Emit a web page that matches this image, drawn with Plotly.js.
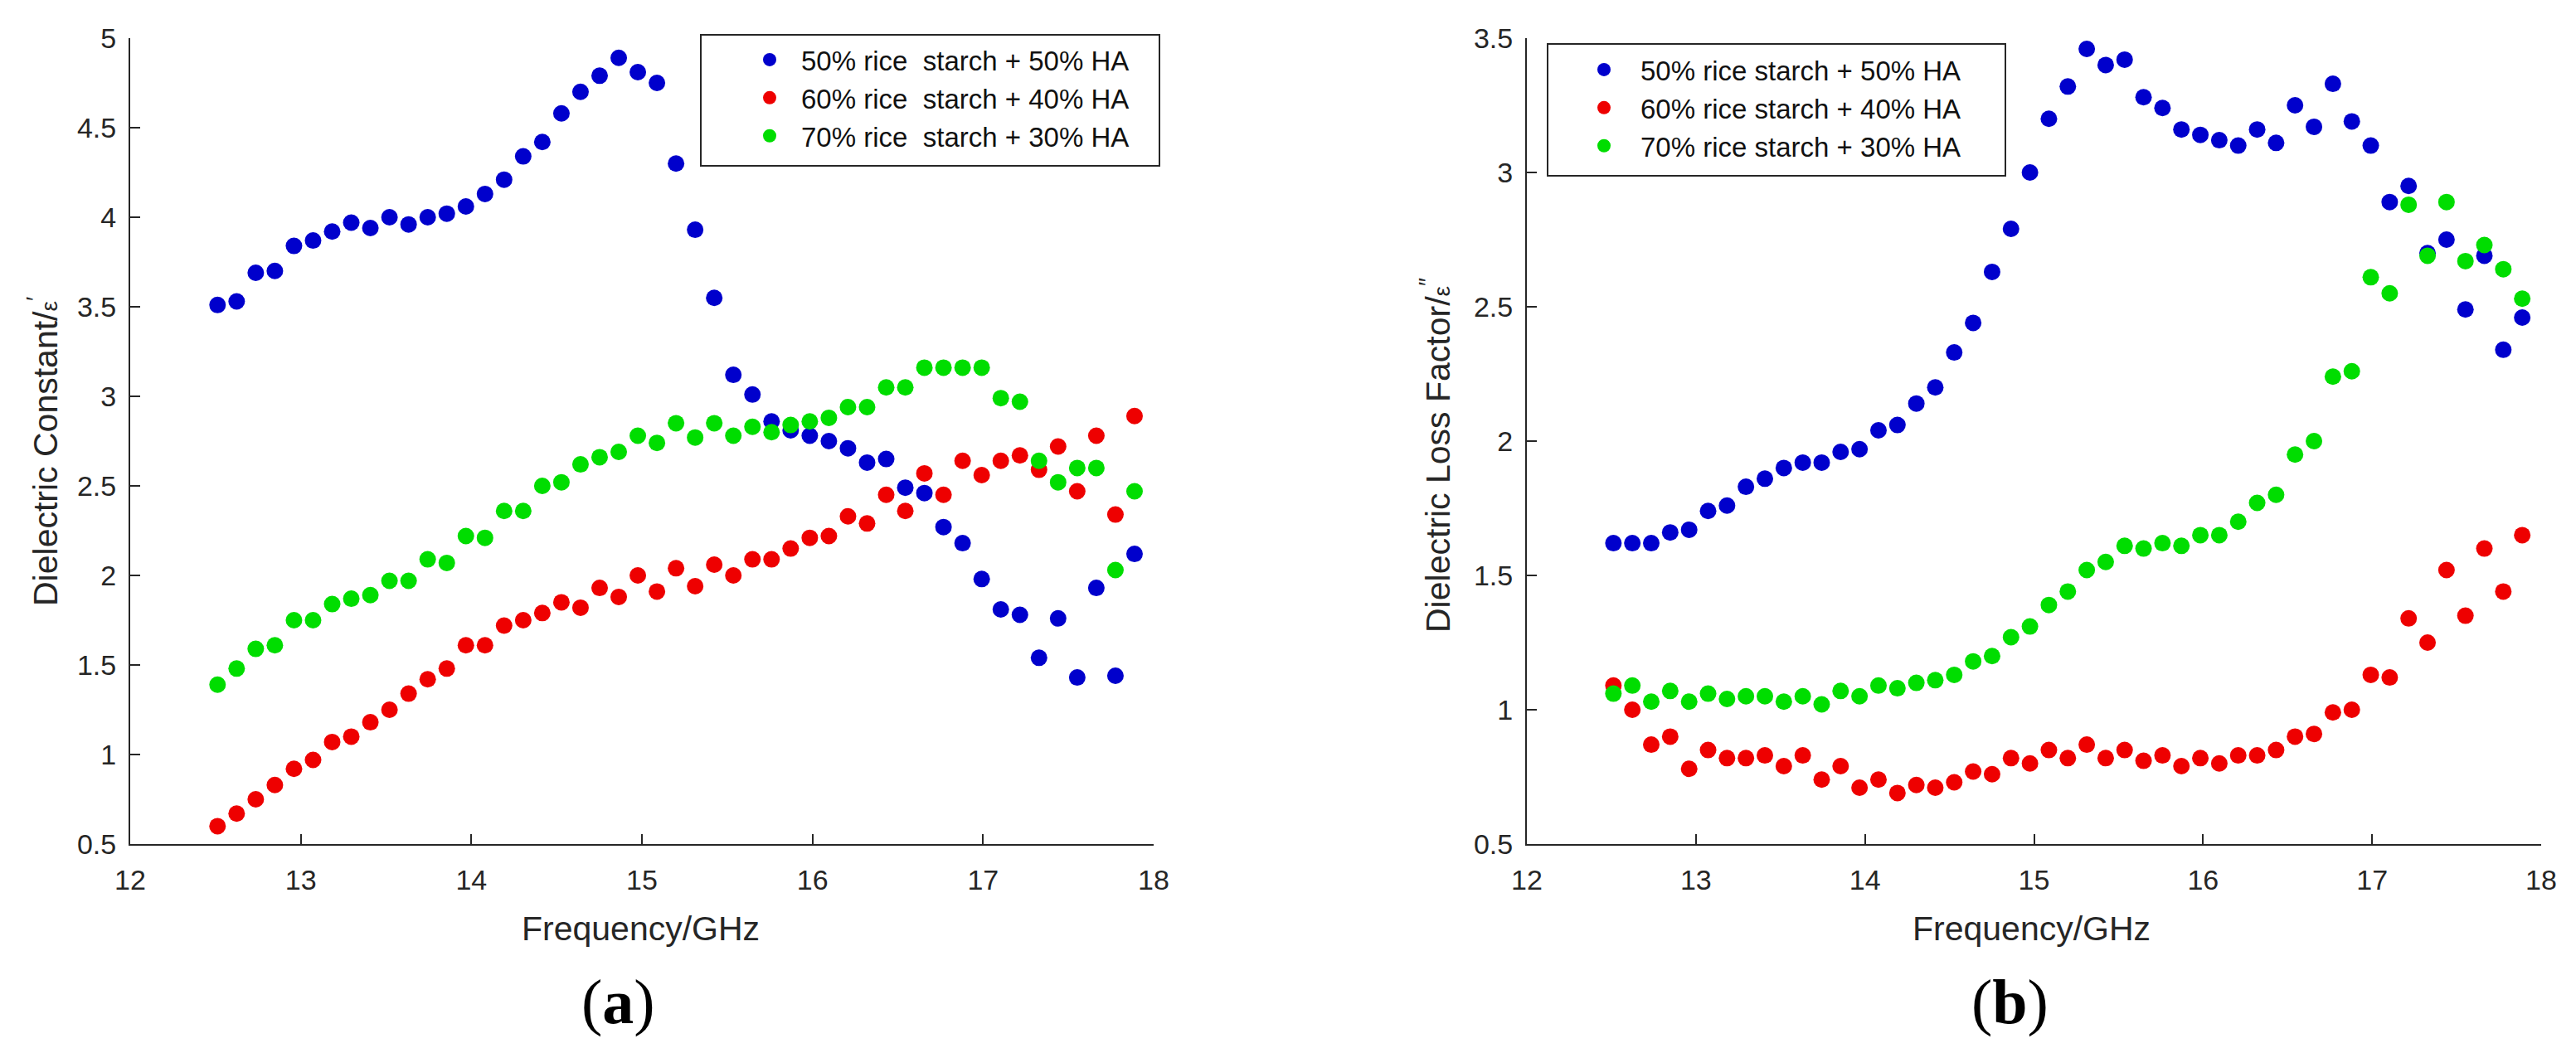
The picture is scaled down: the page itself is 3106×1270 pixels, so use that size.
<!DOCTYPE html>
<html>
<head>
<meta charset="utf-8">
<script src="https://cdn.plot.ly/plotly-3.0.1.min.js"></script>
<style>
  html, body { margin: 0; padding: 0; background: #fff; }
  #chart { width: 3106px; height: 1270px; }
</style>
</head>
<body>
<div id="chart"></div>
<script>
// frequency points (GHz), shared by both panels
var freq = [12.512, 12.624, 12.736, 12.848, 12.960, 13.072, 13.184, 13.296, 13.408, 13.520,
            13.632, 13.744, 13.856, 13.968, 14.080, 14.192, 14.304, 14.416, 14.528, 14.640,
            14.752, 14.864, 14.976, 15.088, 15.200, 15.312, 15.424, 15.536, 15.648, 15.760,
            15.872, 15.984, 16.096, 16.208, 16.320, 16.432, 16.544, 16.656, 16.768, 16.880,
            16.992, 17.104, 17.216, 17.328, 17.440, 17.552, 17.664, 17.776, 17.888];

// (a) dielectric constant
var eps1_50 = [3.51, 3.53, 3.69, 3.70, 3.84, 3.87, 3.92, 3.97, 3.94, 4.00,
               3.96, 4.00, 4.02, 4.06, 4.13, 4.21, 4.34, 4.42, 4.58, 4.70,
               4.79, 4.89, 4.81, 4.75, 4.30, 3.93, 3.55, 3.12, 3.01, 2.86,
               2.81, 2.78, 2.75, 2.71, 2.63, 2.65, 2.49, 2.46, 2.27, 2.18,
               1.98, 1.81, 1.78, 1.54, 1.76, 1.43, 1.93, 1.44, 2.12];
var eps1_60 = [0.60, 0.67, 0.75, 0.83, 0.92, 0.97, 1.07, 1.10, 1.18, 1.25,
               1.34, 1.42, 1.48, 1.61, 1.61, 1.72, 1.75, 1.79, 1.85, 1.82,
               1.93, 1.88, 2.00, 1.91, 2.04, 1.94, 2.06, 2.00, 2.09, 2.09,
               2.15, 2.21, 2.22, 2.33, 2.29, 2.45, 2.36, 2.57, 2.45, 2.64,
               2.56, 2.64, 2.67, 2.59, 2.72, 2.47, 2.78, 2.34, 2.89];
var eps1_70 = [1.39, 1.48, 1.59, 1.61, 1.75, 1.75, 1.84, 1.87, 1.89, 1.97,
               1.97, 2.09, 2.07, 2.22, 2.21, 2.36, 2.36, 2.50, 2.52, 2.62,
               2.66, 2.69, 2.78, 2.74, 2.85, 2.77, 2.85, 2.78, 2.83, 2.80,
               2.84, 2.86, 2.88, 2.94, 2.94, 3.05, 3.05, 3.16, 3.16, 3.16,
               3.16, 2.99, 2.97, 2.64, 2.52, 2.60, 2.60, 2.03, 2.47];

// (b) dielectric loss factor
var eps2_50 = [1.62, 1.62, 1.62, 1.66, 1.67, 1.74, 1.76, 1.83, 1.86, 1.90,
               1.92, 1.92, 1.96, 1.97, 2.04, 2.06, 2.14, 2.20, 2.33, 2.44,
               2.63, 2.79, 3.00, 3.20, 3.32, 3.46, 3.40, 3.42, 3.28, 3.24,
               3.16, 3.14, 3.12, 3.10, 3.16, 3.11, 3.25, 3.17, 3.33, 3.19,
               3.10, 2.89, 2.95, 2.70, 2.75, 2.49, 2.69, 2.34, 2.46];
var eps2_60 = [1.09, 1.00, 0.87, 0.90, 0.78, 0.85, 0.82, 0.82, 0.83, 0.79,
               0.83, 0.74, 0.79, 0.71, 0.74, 0.69, 0.72, 0.71, 0.73, 0.77,
               0.76, 0.82, 0.80, 0.85, 0.82, 0.87, 0.82, 0.85, 0.81, 0.83,
               0.79, 0.82, 0.80, 0.83, 0.83, 0.85, 0.90, 0.91, 0.99, 1.00,
               1.13, 1.12, 1.34, 1.25, 1.52, 1.35, 1.60, 1.44, 1.65];
var eps2_70 = [1.06, 1.09, 1.03, 1.07, 1.03, 1.06, 1.04, 1.05, 1.05, 1.03,
               1.05, 1.02, 1.07, 1.05, 1.09, 1.08, 1.10, 1.11, 1.13, 1.18,
               1.20, 1.27, 1.31, 1.39, 1.44, 1.52, 1.55, 1.61, 1.60, 1.62,
               1.61, 1.65, 1.65, 1.70, 1.77, 1.80, 1.95, 2.00, 2.24, 2.26,
               2.61, 2.55, 2.88, 2.69, 2.89, 2.67, 2.73, 2.64, 2.53];

var namesA = ['50% rice\u00a0 starch + 50% HA', '60% rice\u00a0 starch + 40% HA', '70% rice\u00a0 starch + 30% HA'];
var namesB = ['50% rice starch + 50% HA', '60% rice starch + 40% HA', '70% rice starch + 30% HA'];
var colors = ['#0000cc', '#ee0000', '#00dd00'];

var axisColor = '#262626';
var sans = 'Liberation Sans, Arial, sans-serif';
var tickFont = {family: sans, size: 34, color: axisColor};
var titleFont = {family: sans, size: 41, color: axisColor};
var panelFont = {family: 'Liberation Serif, Times New Roman, serif', size: 76, color: '#000'};

function pointTrace(y, i, names, xa, ya, legend) {
    return {
        x: freq,
        y: y,
        name: names[i],
        type: 'scatter',
        mode: 'markers',
        xaxis: xa,
        yaxis: ya,
        legend: legend,
        marker: {color: colors[i], size: 20, line: {width: 0}}
    };
}

var traces = [
    pointTrace(eps1_50, 0, namesA, 'x', 'y', 'legend'),
    pointTrace(eps1_60, 1, namesA, 'x', 'y', 'legend'),
    pointTrace(eps1_70, 2, namesA, 'x', 'y', 'legend'),
    pointTrace(eps2_50, 0, namesB, 'x2', 'y2', 'legend2'),
    pointTrace(eps2_60, 1, namesB, 'x2', 'y2', 'legend2'),
    pointTrace(eps2_70, 2, namesB, 'x2', 'y2', 'legend2')
];

function xAxis(domain, anchor) {
    return {
        domain: domain,
        anchor: anchor,
        range: [12, 18],
        tickvals: [12, 13, 14, 15, 16, 17, 18],
        ticks: 'inside',
        ticklen: 12,
        tickwidth: 2,
        tickcolor: axisColor,
        showline: true,
        linecolor: axisColor,
        linewidth: 2,
        showgrid: false,
        zeroline: false,
        ticklabelstandoff: 12,
        tickfont: tickFont,
        fixedrange: true
    };
}

function yAxis(domain, anchor, range, tickvals) {
    return {
        domain: domain,
        anchor: anchor,
        range: range,
        tickvals: tickvals,
        ticktext: tickvals.map(String),
        ticks: 'inside',
        ticklen: 12,
        tickwidth: 2,
        tickcolor: axisColor,
        showline: true,
        linecolor: axisColor,
        linewidth: 2,
        showgrid: false,
        zeroline: false,
        ticklabelstandoff: 8,
        tickfont: tickFont,
        fixedrange: true
    };
}

var W = 3106, H = 1270;
function px(x) { return x / W; }
function py(y) { return 1 - y / H; }

// legend frames are drawn as shapes so the entries can sit where the reference has them
var legendBase = {
    xanchor: 'left',
    yanchor: 'top',
    bgcolor: 'rgba(0,0,0,0)',
    borderwidth: 0,
    itemclick: false,
    itemdoubleclick: false,
    font: {family: sans, size: 33, color: '#111'}
};

function frame(x0, x1, y0, y1) {
    return {type: 'rect', xref: 'paper', yref: 'paper',
            x0: px(x0), x1: px(x1), y0: py(y1), y1: py(y0),
            line: {color: axisColor, width: 2}, fillcolor: 'white', layer: 'above'};
}

function label(text, x, y, font, angle) {
    return {text: text, x: px(x), y: py(y), xref: 'paper', yref: 'paper',
            xanchor: 'center', yanchor: 'middle', textangle: angle || 0,
            showarrow: false, font: font};
}

var layout = {
    width: W,
    height: H,
    margin: {l: 0, r: 0, t: 0, b: 0, pad: 0},
    paper_bgcolor: 'white',
    plot_bgcolor: 'white',
    showlegend: true,
    xaxis: xAxis([px(157), px(1391)], 'y'),
    yaxis: yAxis([py(1018), py(46)], 'x', [0.5, 5], [0.5, 1, 1.5, 2, 2.5, 3, 3.5, 4, 4.5, 5]),
    xaxis2: xAxis([px(1841), px(3064)], 'y2'),
    yaxis2: yAxis([py(1018), py(46)], 'x2', [0.5, 3.5], [0.5, 1, 1.5, 2, 2.5, 3, 3.5]),
    legend: Object.assign({}, legendBase, {x: px(890), y: py(44), itemwidth: 66}),
    legend2: Object.assign({}, legendBase, {x: px(1890), y: py(56), itemwidth: 78}),
    shapes: [
        frame(845, 1398, 42, 200),
        frame(1866, 2418, 53, 212)
    ],
    annotations: [
        label('Frequency/GHz', 772, 1120, titleFont),
        label('Frequency/GHz', 2449, 1120, titleFont),
        label('Dielectric Constant/<span style="font-size:28px">ε</span><sup>′</sup>', 52, 545, titleFont, -90),
        label('Dielectric Loss Factor/<span style="font-size:28px">ε</span><sup>″</sup>', 1731, 549, titleFont, -90),
        label('(<b>a</b>)', 745, 1208, panelFont),
        label('(<b>b</b>)', 2423, 1208, panelFont)
    ]
};

Plotly.newPlot('chart', traces, layout, {displayModeBar: false, responsive: false});
</script>
</body>
</html>
